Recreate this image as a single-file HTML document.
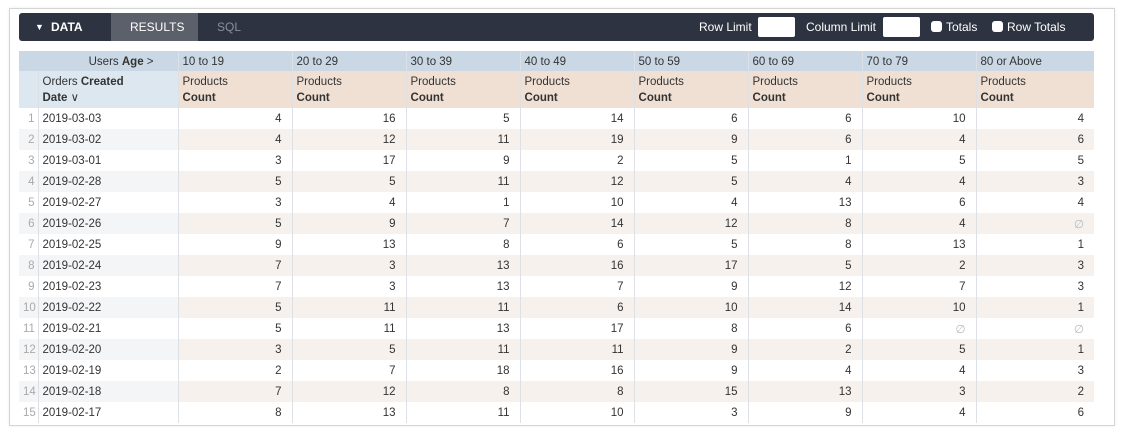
<!DOCTYPE html><html><head><style>
body{margin:0;background:#fff;font-family:"Liberation Sans",sans-serif;font-size:11.5px;color:#333}
.card{position:absolute;left:9px;top:8px;width:1104px;height:416px;border:1px solid #d5d5d5;box-shadow:0 0 3px rgba(0,0,0,.08)}
.bar{position:absolute;left:19px;top:13px;width:1075px;height:28px;background:#2d3340;border-radius:3px;color:#fff;font-size:12px}
.bar span{position:absolute;top:7px}
.res{position:absolute;left:92px;top:0;width:87px;height:28px;background:#5b606b}
.inp{position:absolute;top:4px;width:37px;height:20px;background:#fff;border-radius:2px}
.cb{position:absolute;top:8px;width:11px;height:11px;background:#fff;border-radius:3px}
table{position:absolute;left:19px;top:51px;border-collapse:collapse;table-layout:fixed;width:1075px}
td{padding:0 4px;height:21px;border-left:1px solid #dde1e5;white-space:nowrap;overflow:hidden}
tr.h1 td{background:#c9d8e4;height:19px;padding-top:1px}
tr.h2 td{background:#efe0d3;height:34px;line-height:16px;vertical-align:top;padding-top:3px}
tr.h2 td.f{background:#dce7ef}
td.i{color:#aaa;text-align:right;padding-right:3px;border-left:none}
td.n{text-align:right;padding-right:10px}
tr.s td{background:#f6f1ed}
tr.s td.i,tr.s td.d{background:#f4f5f7}
.z{color:#bbb}
</style></head><body>
<div class="card"></div>
<div class="bar"><div class="res"></div>
<span style="left:16px;font-size:9px;top:9px">▼</span><span style="left:32px;font-weight:bold">DATA</span>
<span style="left:111px">RESULTS</span><span style="left:198px;color:#8a8f99">SQL</span>
<span style="left:680px">Row Limit</span><div class="inp" style="left:739px"></div>
<span style="left:787px">Column Limit</span><div class="inp" style="left:864px"></div>
<div class="cb" style="left:912px"></div><span style="left:927px">Totals</span>
<div class="cb" style="left:973px"></div><span style="left:988px">Row Totals</span></div>
<table>
<colgroup><col style="width:19px"><col style="width:140px"><col style="width:114px"><col style="width:114px"><col style="width:114px"><col style="width:114px"><col style="width:114px"><col style="width:114px"><col style="width:114px"><col style="width:118px"></colgroup>
<tr class="h1"><td colspan="2" style="text-align:right;padding-right:24px;border-left:none">Users <b>Age</b> &gt;</td><td>10 to 19</td><td>20 to 29</td><td>30 to 39</td><td>40 to 49</td><td>50 to 59</td><td>60 to 69</td><td>70 to 79</td><td>80 or Above</td></tr>
<tr class="h2"><td class="f" style="border-left:none"></td><td class="f">Orders <b>Created</b><br><b>Date</b> ∨</td><td>Products<br><b>Count</b></td><td>Products<br><b>Count</b></td><td>Products<br><b>Count</b></td><td>Products<br><b>Count</b></td><td>Products<br><b>Count</b></td><td>Products<br><b>Count</b></td><td>Products<br><b>Count</b></td><td>Products<br><b>Count</b></td></tr>
<tr><td class="i">1</td><td class="d">2019-03-03</td><td class="n">4</td><td class="n">16</td><td class="n">5</td><td class="n">14</td><td class="n">6</td><td class="n">6</td><td class="n">10</td><td class="n">4</td></tr>
<tr class="s"><td class="i">2</td><td class="d">2019-03-02</td><td class="n">4</td><td class="n">12</td><td class="n">11</td><td class="n">19</td><td class="n">9</td><td class="n">6</td><td class="n">4</td><td class="n">6</td></tr>
<tr><td class="i">3</td><td class="d">2019-03-01</td><td class="n">3</td><td class="n">17</td><td class="n">9</td><td class="n">2</td><td class="n">5</td><td class="n">1</td><td class="n">5</td><td class="n">5</td></tr>
<tr class="s"><td class="i">4</td><td class="d">2019-02-28</td><td class="n">5</td><td class="n">5</td><td class="n">11</td><td class="n">12</td><td class="n">5</td><td class="n">4</td><td class="n">4</td><td class="n">3</td></tr>
<tr><td class="i">5</td><td class="d">2019-02-27</td><td class="n">3</td><td class="n">4</td><td class="n">1</td><td class="n">10</td><td class="n">4</td><td class="n">13</td><td class="n">6</td><td class="n">4</td></tr>
<tr class="s"><td class="i">6</td><td class="d">2019-02-26</td><td class="n">5</td><td class="n">9</td><td class="n">7</td><td class="n">14</td><td class="n">12</td><td class="n">8</td><td class="n">4</td><td class="n z">∅</td></tr>
<tr><td class="i">7</td><td class="d">2019-02-25</td><td class="n">9</td><td class="n">13</td><td class="n">8</td><td class="n">6</td><td class="n">5</td><td class="n">8</td><td class="n">13</td><td class="n">1</td></tr>
<tr class="s"><td class="i">8</td><td class="d">2019-02-24</td><td class="n">7</td><td class="n">3</td><td class="n">13</td><td class="n">16</td><td class="n">17</td><td class="n">5</td><td class="n">2</td><td class="n">3</td></tr>
<tr><td class="i">9</td><td class="d">2019-02-23</td><td class="n">7</td><td class="n">3</td><td class="n">13</td><td class="n">7</td><td class="n">9</td><td class="n">12</td><td class="n">7</td><td class="n">3</td></tr>
<tr class="s"><td class="i">10</td><td class="d">2019-02-22</td><td class="n">5</td><td class="n">11</td><td class="n">11</td><td class="n">6</td><td class="n">10</td><td class="n">14</td><td class="n">10</td><td class="n">1</td></tr>
<tr><td class="i">11</td><td class="d">2019-02-21</td><td class="n">5</td><td class="n">11</td><td class="n">13</td><td class="n">17</td><td class="n">8</td><td class="n">6</td><td class="n z">∅</td><td class="n z">∅</td></tr>
<tr class="s"><td class="i">12</td><td class="d">2019-02-20</td><td class="n">3</td><td class="n">5</td><td class="n">11</td><td class="n">11</td><td class="n">9</td><td class="n">2</td><td class="n">5</td><td class="n">1</td></tr>
<tr><td class="i">13</td><td class="d">2019-02-19</td><td class="n">2</td><td class="n">7</td><td class="n">18</td><td class="n">16</td><td class="n">9</td><td class="n">4</td><td class="n">4</td><td class="n">3</td></tr>
<tr class="s"><td class="i">14</td><td class="d">2019-02-18</td><td class="n">7</td><td class="n">12</td><td class="n">8</td><td class="n">8</td><td class="n">15</td><td class="n">13</td><td class="n">3</td><td class="n">2</td></tr>
<tr><td class="i">15</td><td class="d">2019-02-17</td><td class="n">8</td><td class="n">13</td><td class="n">11</td><td class="n">10</td><td class="n">3</td><td class="n">9</td><td class="n">4</td><td class="n">6</td></tr>
</table>
</body></html>
